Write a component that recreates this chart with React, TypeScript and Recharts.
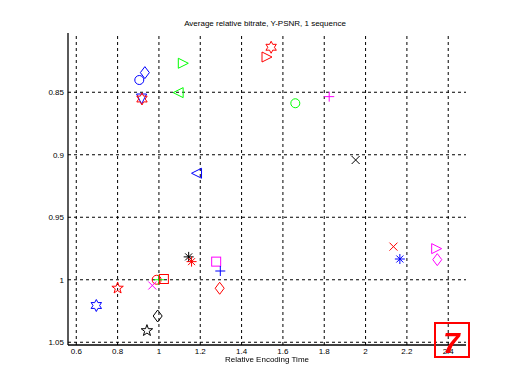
import React from "react";
import {
  ReferenceLine,
  Scatter,
  ScatterChart,
  XAxis,
  YAxis,
} from "recharts";

// relative encoding time (x) and average relative bitrate (y), one entry per codec config
const encodingTime = [
  0.905, 0.932, 0.916, 0.918, 1.118, 1.093, 1.182, 1.523, 1.543, 1.66,
  1.824, 1.952, 1.144, 1.158, 0.989, 1.0, 1.024, 0.968, 0.8, 0.697,
  0.994, 0.942, 1.277, 1.297, 1.294, 2.135, 2.166, 2.344, 2.347,
];
const relativeBitrate = [
  0.8402, 0.8343, 0.8554, 0.8554, 0.8268, 0.8503, 0.9148, 0.8218, 0.814,
  0.8588, 0.8535, 0.9042, 0.9817, 0.9855, 1.0, 1.0, 0.9994, 1.0046,
  1.0067, 1.0206, 1.029, 1.0407, 0.9855, 0.993, 1.0068, 0.9735, 0.9834,
  0.9751, 0.9839,
];
const markerKinds = [
  "o", "d", "v", "h", ">", "<", "<", ">", "h", "o",
  "+", "x", "*", "*", "o", "+", "s", "x", "p", "h",
  "d", "p", "s", "+", "d", "x", "*", ">", "d",
];
const markerColors = [
  "#0000ff", "#0000ff", "#0000ff", "#ff0000", "#00ff00", "#00ff00", "#0000ff",
  "#ff0000", "#ff0000", "#00ff00", "#ff00ff", "#000000", "#000000", "#ff0000",
  "#ff0000", "#00ff00", "#ff0000", "#ff00ff", "#ff0000", "#0000ff", "#000000",
  "#000000", "#ff00ff", "#0000ff", "#ff0000", "#ff0000", "#0000ff", "#ff00ff",
  "#ff00ff",
];

const xTicks = [0.6, 0.8, 1, 1.2, 1.4, 1.6, 1.8, 2, 2.2, 2.4];
const yTicks = [0.85, 0.9, 0.95, 1, 1.05];

const FONT = "'Liberation Sans', Arial, sans-serif";

function starPoints(cx: number, cy: number, n: number, R: number, r: number) {
  const pts: string[] = [];
  for (let i = 0; i < n * 2; i++) {
    const rad = i % 2 === 0 ? R : r;
    const a = -Math.PI / 2 + (i * Math.PI) / n;
    pts.push(`${cx + rad * Math.cos(a)},${cy + rad * Math.sin(a)}`);
  }
  return pts.join(" ");
}

function Marker(props: any) {
  const { cx, cy, kind, color } = props;
  if (cx == null || cy == null) return null;
  const s = 5;
  const st = { fill: "none", stroke: color, strokeWidth: 1 };
  switch (kind) {
    case "o":
      return <circle cx={cx} cy={cy} r={4.5} {...st} />;
    case "s":
      return <rect x={cx - 4.5} y={cy - 4.5} width={9} height={9} {...st} />;
    case "d":
      return (
        <polygon
          points={`${cx},${cy - 6} ${cx + 4.5},${cy} ${cx},${cy + 6} ${cx - 4.5},${cy}`}
          {...st}
        />
      );
    case "^":
      return <polygon points={`${cx},${cy - s} ${cx + s},${cy + s} ${cx - s},${cy + s}`} {...st} />;
    case "v":
      return <polygon points={`${cx},${cy + s} ${cx + s},${cy - s} ${cx - s},${cy - s}`} {...st} />;
    case ">":
      return <polygon points={`${cx + s},${cy} ${cx - s},${cy - s} ${cx - s},${cy + s}`} {...st} />;
    case "<":
      return <polygon points={`${cx - s},${cy} ${cx + s},${cy - s} ${cx + s},${cy + s}`} {...st} />;
    case "+":
      return <path d={`M${cx - s},${cy}H${cx + s}M${cx},${cy - s}V${cy + s}`} {...st} />;
    case "x":
      return (
        <path
          d={`M${cx - 4},${cy - 4}L${cx + 4},${cy + 4}M${cx - 4},${cy + 4}L${cx + 4},${cy - 4}`}
          {...st}
        />
      );
    case "*":
      return (
        <path
          d={`M${cx - s},${cy}H${cx + s}M${cx},${cy - s}V${cy + s}M${cx - 3.5},${cy - 3.5}L${cx + 3.5},${cy + 3.5}M${cx - 3.5},${cy + 3.5}L${cx + 3.5},${cy - 3.5}`}
          {...st}
        />
      );
    case "p":
      return <polygon points={starPoints(cx, cy, 5, 6, 2.4)} {...st} />;
    case "h":
      return <polygon points={starPoints(cx, cy, 6, 6, 3.3)} {...st} />;
    default:
      return null;
  }
}

export default function App() {
  const points = encodingTime.map((x, i) => ({ x, y: relativeBitrate[i] }));

  return (
    <div style={{ position: "fixed", left: 0, top: 0, width: 518, height: 378, background: "#fff" }}>
      <div
        style={{
          position: "absolute",
          left: 0,
          width: 530,
          top: 19,
          textAlign: "center",
          fontFamily: FONT,
          fontSize: 8,
          color: "#000",
        }}
      >
        Average relative bitrate, Y-PSNR, 1 sequence
      </div>
      <ScatterChart
        width={518}
        height={378}
        margin={{ top: 33, right: 52, left: 28, bottom: 3 }}
      >
        <XAxis
          type="number"
          dataKey="x"
          domain={[0.56, 2.486]}
          ticks={xTicks}
          allowDataOverflow
          height={30}
          tickLine={false}
          tickSize={0}
          tickMargin={3}
          axisLine={{ stroke: "#000", strokeWidth: 1.3 }}
          tick={{ fontSize: 8, fill: "#000", fontFamily: FONT }}
        />
        <YAxis
          type="number"
          dataKey="y"
          domain={[0.8026, 1.0522]}
          reversed
          ticks={yTicks}
          allowDataOverflow
          width={40}
          tickLine={false}
          tickSize={0}
          tickMargin={4}
          axisLine={{ stroke: "#000", strokeWidth: 1.3 }}
          tick={{ fontSize: 8, fill: "#000", fontFamily: FONT }}
        />
        {xTicks.map((t) => (
          <ReferenceLine key={`vx${t}`} x={t} stroke="#000" strokeDasharray="3 3" />
        ))}
        {yTicks.map((t) => (
          <ReferenceLine key={`hy${t}`} y={t} stroke="#000" strokeDasharray="3 3" />
        ))}
        {points.map((p, i) => (
          <Scatter
            key={i}
            data={[p]}
            isAnimationActive={false}
            shape={(props: any) => (
              <Marker {...props} kind={markerKinds[i]} color={markerColors[i]} />
            )}
          />
        ))}
      </ScatterChart>
      <div
        style={{
          position: "absolute",
          left: 0,
          width: 534,
          top: 355,
          textAlign: "center",
          fontFamily: FONT,
          fontSize: 8,
          color: "#000",
        }}
      >
        Relative Encoding Time
      </div>
      <div
        style={{
          position: "absolute",
          left: 434,
          top: 322,
          width: 36,
          height: 36,
          boxSizing: "border-box",
          border: "2px solid #ff0000",
        }}
      />
      <div
        style={{
          position: "absolute",
          left: 443,
          top: 328,
          fontFamily: FONT,
          fontSize: 30,
          fontWeight: "bold",
          fontStyle: "italic",
          color: "#ff0000",
          lineHeight: "30px",
        }}
      >
        7
      </div>
    </div>
  );
}
